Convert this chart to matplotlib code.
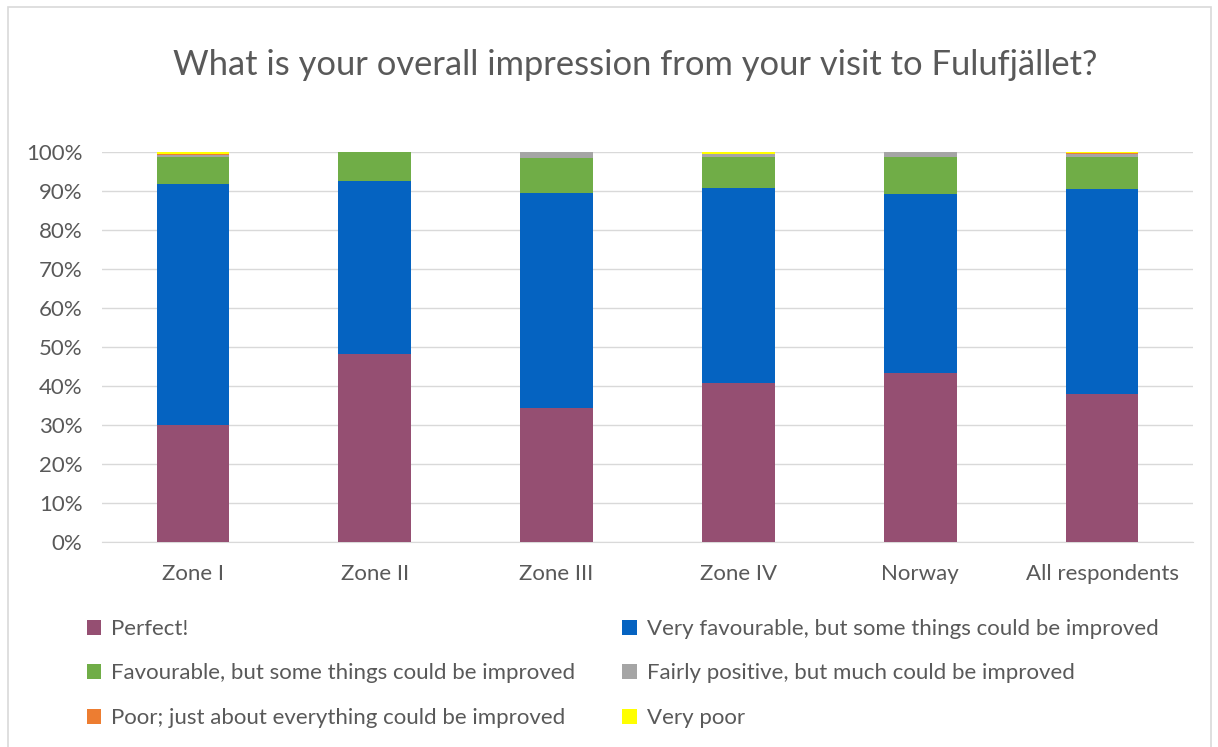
import numpy as np
import matplotlib.pyplot as plt
from matplotlib.patches import Rectangle

categories = ['Zone I', 'Zone II', 'Zone III', 'Zone IV', 'Norway', 'All respondents']
series_names = ['Perfect!',
                'Very favourable, but some things could be improved',
                'Favourable, but some things could be improved',
                'Fairly positive, but much could be improved',
                'Poor; just about everything could be improved',
                'Very poor']
perfect = [30.0, 48.2, 34.4, 40.8, 43.3, 37.9]
very_favourable = [61.8, 44.4, 55.1, 50.0, 45.9, 52.6]
favourable = [6.9, 7.4, 9.0, 7.8, 9.6, 8.1]
fairly_positive = [0.5, 0.0, 1.5, 1.0, 1.2, 1.0]
poor = [0.4, 0.0, 0.0, 0.0, 0.0, 0.2]
very_poor = [0.4, 0.0, 0.0, 0.4, 0.0, 0.2]
colors = ['#954F72', '#0563C1', '#70AD47', '#A5A5A5', '#ED7D31', '#FFFF00']

plt.rcParams['font.family'] = ['Lato', 'DejaVu Sans']
text_color = '#595959'

fig = plt.figure(figsize=(12.18, 7.47), dpi=100)
ax = fig.add_axes([102 / 1218, 1 - 542 / 747, (1193 - 102) / 1218, 390 / 747])

data = [perfect, very_favourable, favourable, fairly_positive, poor, very_poor]
x = np.arange(len(categories))
bottom = np.zeros(len(categories))
handles = []
for name, vals, c in zip(series_names, data, colors):
    vals = np.array(vals)
    b = ax.bar(x, vals / 100, 0.4, bottom=bottom / 100, color=c, label=name, zorder=3)
    handles.append(b)
    bottom += vals

ax.set_xlim(-0.5, len(categories) - 0.5)
ax.set_ylim(0, 1)
ax.set_yticks(np.arange(0, 1.01, 0.1))
ax.set_yticklabels([f'{int(round(v * 100))}%' for v in np.arange(0, 1.01, 0.1)])
ax.set_xticks(x)
ax.set_xticklabels(categories)
ax.grid(axis='y', color='#D9D9D9', linewidth=1, zorder=0)
for s in ['top', 'right', 'left']:
    ax.spines[s].set_visible(False)
ax.spines['bottom'].set_color('#D9D9D9')
ax.tick_params(length=0, labelsize=16, colors=text_color)
ax.tick_params(axis='x', pad=16)
ax.tick_params(axis='y', pad=14)

fig.text(635 / 1218, 1 - 65 / 747, 'What is your overall impression from your visit to Fulufjället?',
         ha='center', va='center', fontsize=24.8, color=text_color)

order = [0, 2, 4, 1, 3, 5]
fig.legend([handles[i] for i in order], [series_names[i] for i in order],
           ncol=2, loc='upper left', bbox_to_anchor=(67 / 1218, 1 - 599 / 747),
           frameon=False, fontsize=16, labelcolor=text_color,
           handlelength=0.65, handleheight=0.65, handletextpad=0.45,
           columnspacing=2.1, labelspacing=1.1)

fig.patches.append(Rectangle((8 / 1218, -0.01), (1211 - 8) / 1218, 1.01 - 7 / 747,
                             transform=fig.transFigure, fill=False,
                             edgecolor='#D9D9D9', linewidth=1.2))

fig.savefig('out.png', dpi=100)
